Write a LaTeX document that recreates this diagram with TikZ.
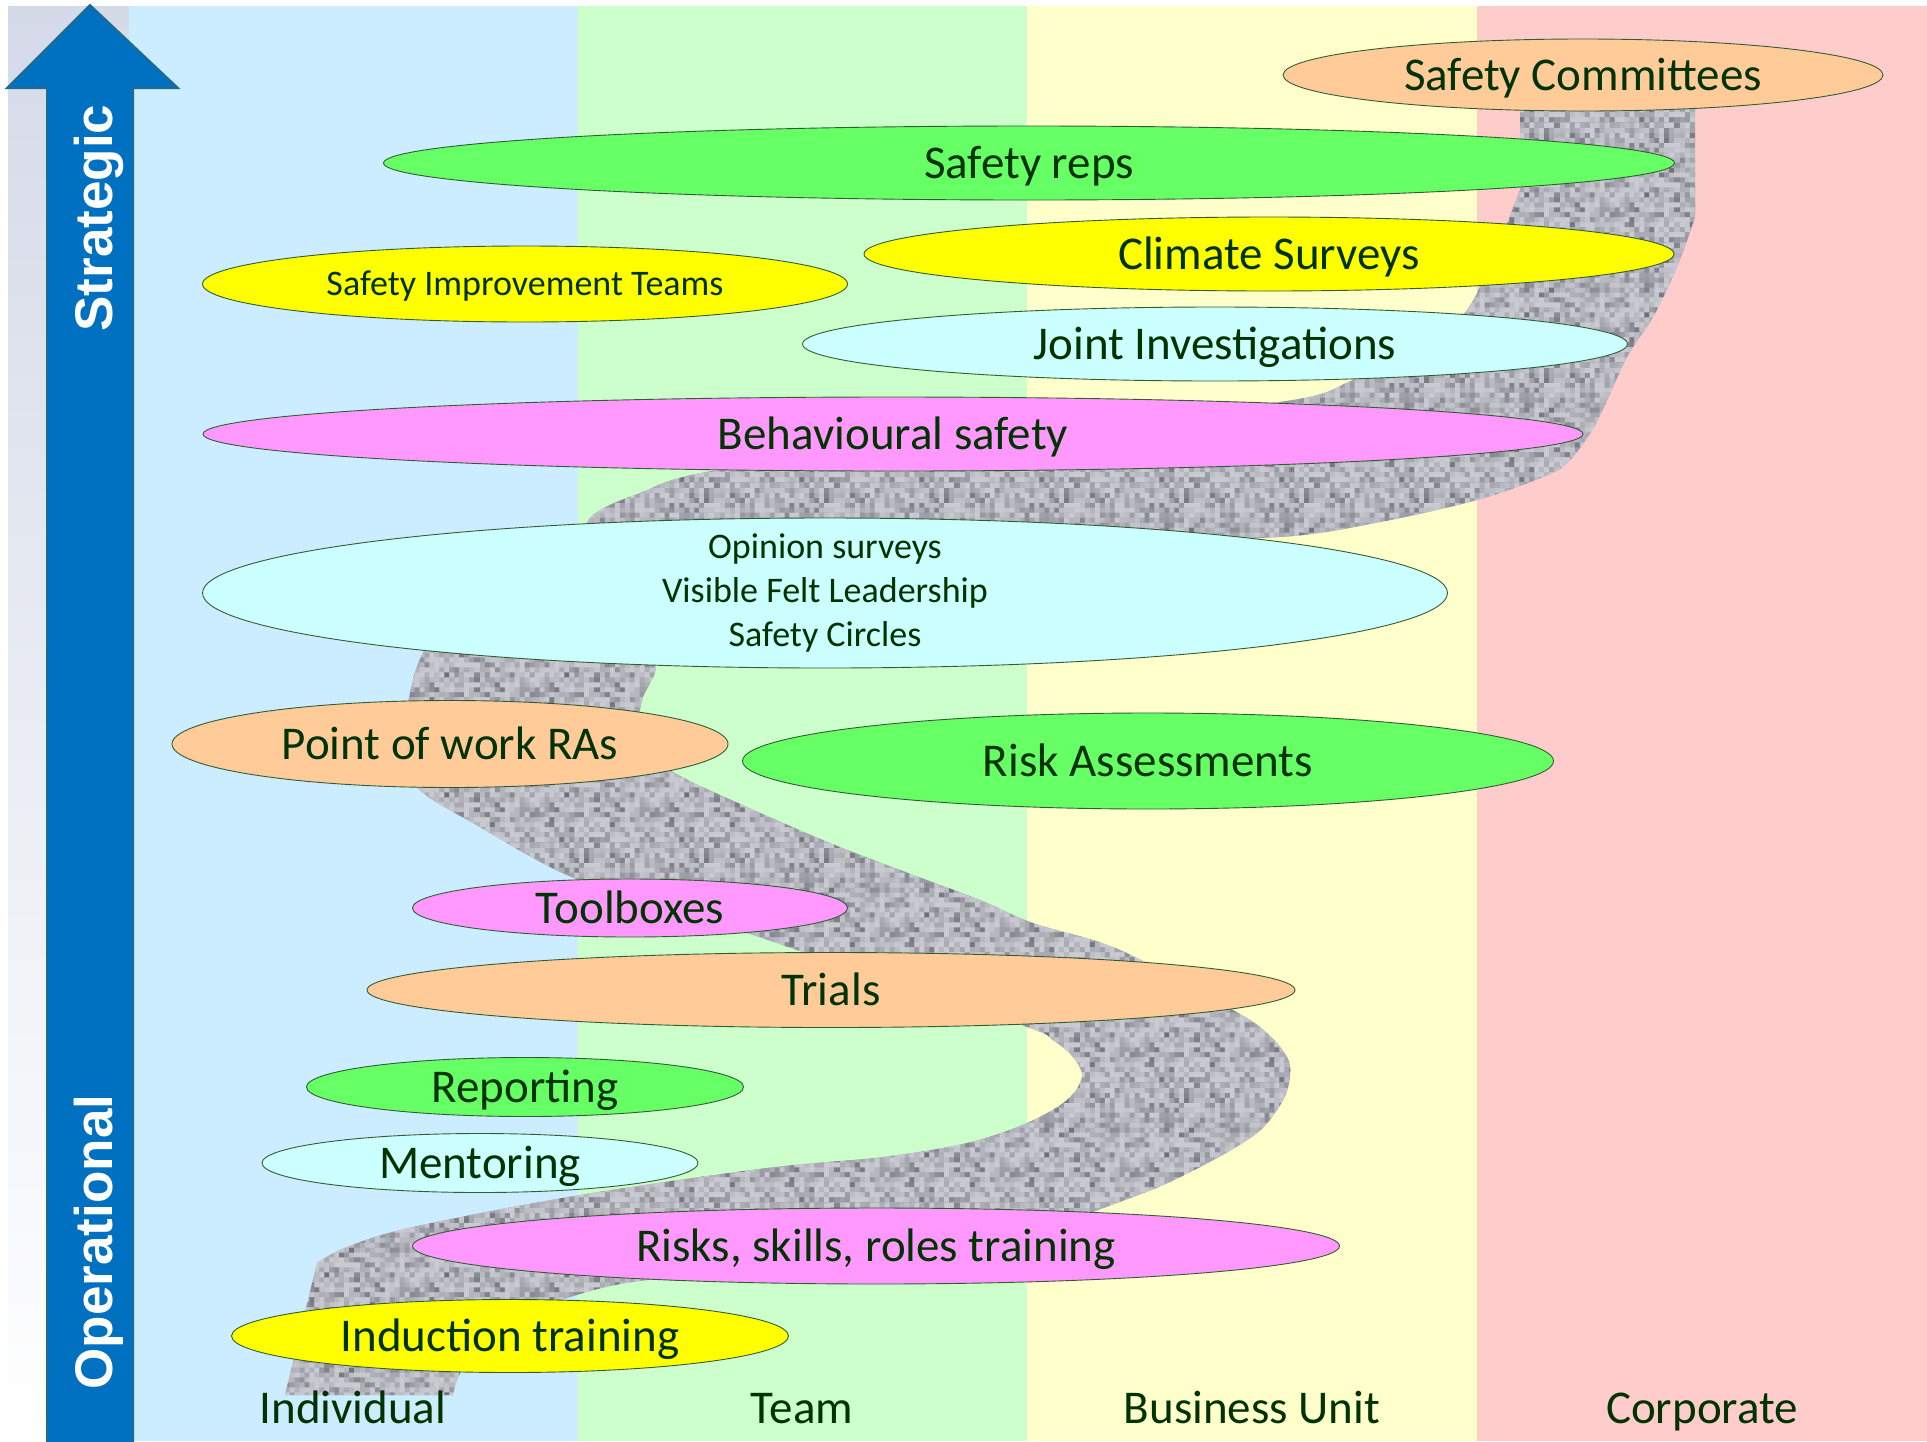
\documentclass[tikz,border=0pt]{standalone}
\usepackage{fontspec}
\setmainfont{Carlito}
\newfontfamily\arrowfont{Liberation Sans}
\usetikzlibrary{shapes.geometric,patterns}

\definecolor{txtgreen}{HTML}{003300}
\definecolor{colblue}{HTML}{CCECFF}
\definecolor{colgreen}{HTML}{CCFFCC}
\definecolor{colyellow}{HTML}{FFFFCC}
\definecolor{colpink}{HTML}{FFCCCC}
\definecolor{peach}{HTML}{FFCC99}
\definecolor{leaf}{HTML}{66FF66}
\definecolor{lemon}{HTML}{FFFF00}
\definecolor{aqua}{HTML}{CCFFFF}
\definecolor{orchid}{HTML}{FF99FF}
\definecolor{arrowblue}{HTML}{0070C0}
\definecolor{arrowedge}{HTML}{1F6C8C}
\definecolor{roadgray}{HTML}{A8A8B0}
\definecolor{noiselo}{HTML}{50505C}
\definecolor{noisehi}{HTML}{DCDCE4}
\definecolor{stripe}{HTML}{D4DAE8}

% grainy tile for the road
\pgfdeclarepatterninherentlycolored{roadnoise}
{\pgfpointorigin}{\pgfpoint{120pt}{120pt}}
{\pgfpoint{120pt}{120pt}}
{
  \pgfmathsetseed{5}
  \foreach \i in {0,...,23} {
    \foreach \j in {0,...,23} {
      \pgfmathsetmacro{\sh}{12+70*rnd*rnd}
      \pgfsetfillcolor{noiselo!\sh!noisehi}
      \pgfpathrectangle{\pgfpoint{\i*5pt}{\j*5pt}}{\pgfpoint{5.3pt}{5.3pt}}
      \pgfusepath{fill}
    }
  }
}

\begin{document}
\begin{tikzpicture}[x=1pt,y=-1pt]
\tikzstyle{pill}=[ellipse, draw=txtgreen!80, line width=0.9pt, inner xsep=0pt, inner ysep=-10pt, text=txtgreen, font=\fontsize{47}{56}\selectfont, text height=36pt, text depth=6pt]
\tikzstyle{pilltext}=[font=\fontsize{36}{44}\selectfont, align=center, text height=, text depth=, inner ysep=-30pt]
\tikzstyle{colname}=[text=txtgreen, font=\fontsize{47}{56}\selectfont, anchor=base]
\tikzstyle{axislabel}=[rotate=90, anchor=base, text=white, font=\arrowfont\bfseries\fontsize{53}{60}\selectfont]
\tikzstyle{road}=[preaction={fill=roadgray}, pattern=roadnoise]
	\useasboundingbox (0,0) rectangle (1927,1441);
	\fill[white] (0,0) rectangle (1927,1441);
	\shade[top color=stripe, bottom color=white] (8,6) rectangle (129,1441);
	\fill[colblue] (129,6) rectangle (578,1441);
	\fill[colgreen] (578,6) rectangle (1027,1441);
	\fill[colyellow] (1027,6) rectangle (1477,1441);
	\fill[colpink] (1477,6) rectangle (1927,1441);
	% the winding road behind the ellipses
	\fill[road] (285,1395) -- (317,1263)
		-- plot[smooth, tension=0.55] coordinates {(317,1263) (347,1247) (413,1227) (580,1195) (767,1168) (883,1157) (967,1143) (1027,1123) (1067,1100) (1082,1077) (1073,1057) (1053,1040) (1030,1028) (900,985) (797,950) (747,933) (660,905) (567,875) (480,827) (417,787) (405,740) (410,693) (423,653) (460,600) (560,565) (800,545) (1100,540) (1280,537) (1380,522) (1477,500) (1540,478) (1567,463) (1595,425) (1627,357) (1653,317) (1677,267) (1695,217)}
		-- (1695,75) -- (1520,75)
		-- plot[smooth, tension=0.55] coordinates {(1520,190) (1500,240) (1467,310) (1420,345) (1353,380) (1280,402) (1000,430) (717,470) (640,493) (590,518) (580,560) (620,630) (655,665) (642,700) (640,735) (670,770) (747,807) (830,843) (900,870) (980,900) (1033,923) (1120,950) (1233,1010) (1267,1033) (1287,1057) (1290,1075) (1283,1100) (1257,1133) (1200,1167) (1133,1197) (1000,1240) (800,1268) (647,1280) (573,1296) (500,1325) (462,1370) (453,1395)}
		-- cycle;
	\node[pill, fill=peach, minimum width=600pt, minimum height=72pt] (committees) at (1583,75) {Safety Committees};
	\node[pill, fill=leaf, minimum width=1291pt, minimum height=74pt] (reps) at (1029,163) {Safety reps};
	\node[pill, fill=lemon, minimum width=810pt, minimum height=74pt] (climate) at (1269,254) {Climate Surveys};
	\node[pill, fill=lemon, minimum width=645pt, minimum height=76pt, font=\fontsize{36}{44}\selectfont, text height=28pt, text depth=5pt] (improve) at (525,284) {Safety Improvement Teams};
	\node[pill, fill=aqua, minimum width=825pt, minimum height=74pt] (joint) at (1215,344) {Joint Investigations};
	\node[pill, fill=orchid, minimum width=1380pt, minimum height=74pt] (behaviour) at (893,434) {Behavioural safety};
	\node[pill, pilltext, fill=aqua, minimum width=1245pt, minimum height=150pt] (opinion) at (825,593) {Opinion surveys\\Visible Felt Leadership\\Safety Circles};
	\node[pill, fill=peach, minimum width=556pt, minimum height=87pt] (pointwork) at (450,744) {Point of work RAs};
	\node[pill, fill=leaf, minimum width=811pt, minimum height=96pt] (riskass) at (1148,761) {Risk Assessments};
	\node[pill, fill=orchid, minimum width=435pt, minimum height=58pt] (toolbox) at (630,908) {Toolboxes};
	\node[pill, fill=peach, minimum width=928pt, minimum height=75pt] (trials) at (831,990) {Trials};
	\node[pill, fill=leaf, minimum width=437pt, minimum height=59pt] (reporting) at (525,1087) {Reporting};
	\node[pill, fill=aqua, minimum width=436pt, minimum height=59pt] (mentoring) at (480,1163) {Mentoring};
	\node[pill, fill=orchid, minimum width=927pt, minimum height=76pt] (training) at (876,1246) {Risks, skills, roles training};
	\node[pill, fill=lemon, minimum width=557pt, minimum height=73pt] (induction) at (510,1336) {Induction training};
	% strategic / operational arrow
	\draw[fill=arrowblue, draw=arrowedge, line width=2pt] (47,1446) -- (47,88) -- (7,88) -- (90,5) -- (178,88) -- (133,88) -- (133,1446) -- cycle;
	\node[axislabel] (strategic) at (112,218) {Strategic};
	\node[axislabel] (operational) at (112,1242) {Operational};
	\node[colname] (individual) at (353,1423) {Individual};
	\node[colname] (team) at (802,1423) {Team};
	\node[colname] (unit) at (1252,1423) {Business Unit};
	\node[colname] (corporate) at (1702,1423) {Corporate};
\end{tikzpicture}
\end{document}
